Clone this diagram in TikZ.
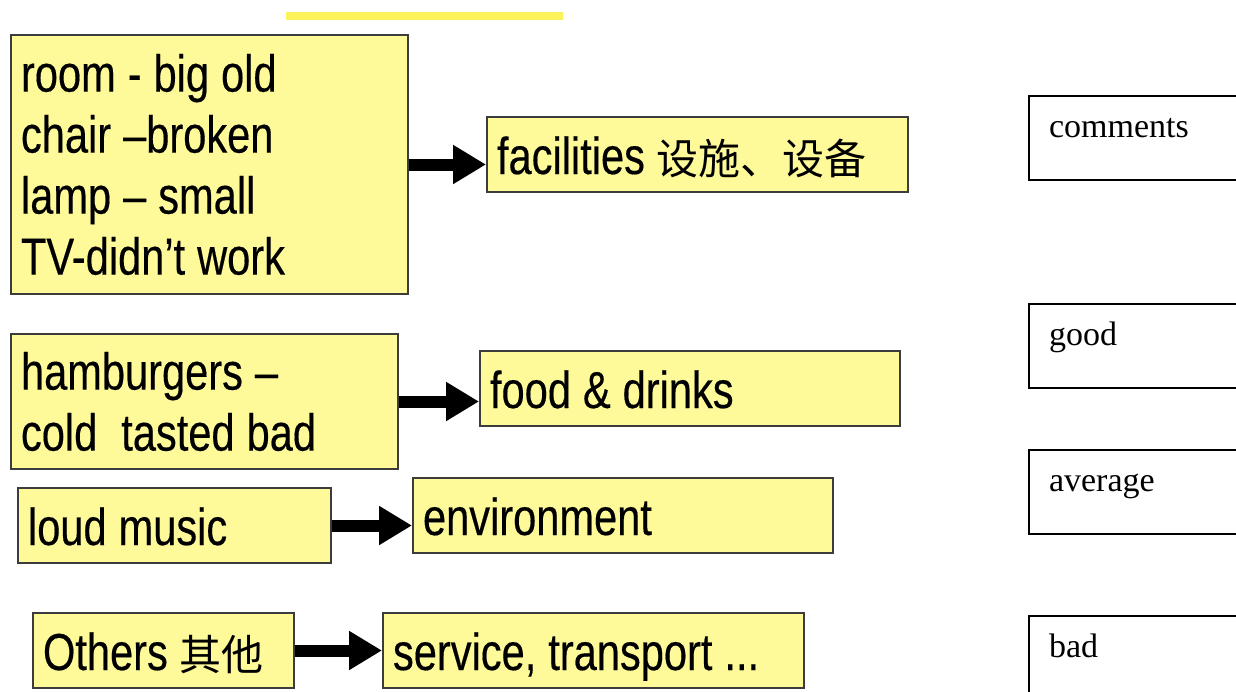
\documentclass[tikz,border=0pt]{standalone}
\usepackage{fontspec}
\usepackage{tikz}
\usetikzlibrary{arrows.meta}
\setmainfont{Liberation Sans}
\newfontfamily\yfont[FakeStretch=0.80, FakeBold=0.3]{Liberation Sans}
\newfontfamily\rfont{Liberation Serif}
\newfontfamily\cjk{Noto Sans CJK SC}
\newcommand{\ytext}{\yfont\fontsize{26pt}{30.5pt}\selectfont}
\newcommand{\zh}[1]{{\cjk\fontsize{21pt}{30.5pt}\selectfont #1}}
\definecolor{boxyellow}{RGB}{255,250,153}
\definecolor{baryellow}{RGB}{252,243,90}
\definecolor{boxgray}{RGB}{60,60,60}

\begin{document}
\begin{tikzpicture}[x=0.5pt, y=-0.5pt,
  ybox/.style={draw=boxgray, fill=boxyellow, line width=1pt, anchor=north west, align=left, inner xsep=5pt, inner ysep=0pt, font=\ytext, execute at begin node={\spaceskip=6pt\relax}},
  yline/.style={ybox, text height=28.5pt, text depth=9pt},
  rbox/.style={draw=black, fill=white, line width=1pt, anchor=north west, align=left, inner xsep=10pt, inner ysep=0pt, text width=100pt, text height=20.5pt, text depth=21.5pt, font=\rfont\fontsize{17pt}{20pt}\selectfont},
  fat/.style={line width=6pt, -{Triangle[length=16.5pt, width=18.5pt]}}]
  \useasboundingbox (0,0) rectangle (1236,691);
  \clip (0,0) rectangle (1236,691);

  \fill[baryellow] (286,12) rectangle (563,20);

  \node[ybox, text width=188.5pt, minimum height=129.5pt] (room) at (10,34) {room - big old\\chair –broken\\lamp – small\\TV-didn’t work};
  \node[yline, text width=200.5pt] (fac) at (486,116) {facilities \zh{设施、设备}};
  \node[ybox, text width=183.5pt, minimum height=67.5pt] (ham) at (10,333) {hamburgers –\\cold\ \ tasted bad};
  \node[yline, text width=200pt] (food) at (479,350) {food \& drinks};
  \node[yline, text width=146.5pt] (loud) at (17,487) {loud music};
  \node[yline, text width=200pt] (env) at (412,477) {environment};
  \node[yline, text width=120.5pt] (oth) at (32,612) {Others \zh{其他}};
  \node[yline, text width=200.5pt] (serv) at (382,612) {service, transport ...};

  \draw[fat] (room.east) -- (room.east -| fac.west);
  \draw[fat] (ham.east) -- (ham.east -| food.west);
  \draw[fat] (loud.east) -- (loud.east -| env.west);
  \draw[fat] (oth.east) -- (oth.east -| serv.west);

  \node[rbox] (com) at (1028,95) {comments};
  \node[rbox] (good) at (1028,303) {good};
  \node[rbox] (avg) at (1028,449) {average};
  \node[rbox] (bad) at (1028,615) {bad};
\end{tikzpicture}
\end{document}
